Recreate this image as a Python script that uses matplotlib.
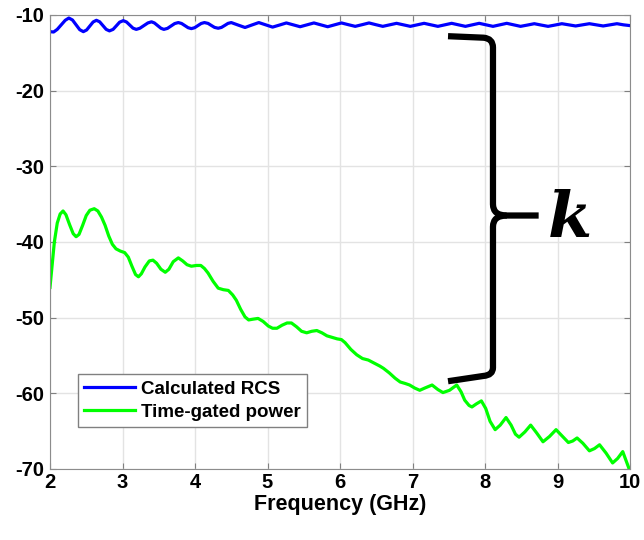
import numpy as np
import matplotlib.pyplot as plt
from matplotlib.path import Path
from matplotlib.patches import PathPatch

# calculated RCS (blue), dB vs GHz
rcs_ghz = [2.00, 2.05, 2.10, 2.155, 2.21, 2.26, 2.31, 2.36, 2.41, 2.46,
           2.505, 2.55, 2.595, 2.64, 2.685, 2.73, 2.775, 2.82, 2.87, 2.915,
           2.96, 3.01, 3.055, 3.10, 3.145, 3.19, 3.24, 3.295, 3.35, 3.40,
           3.44, 3.485, 3.53, 3.57, 3.62, 3.67, 3.72, 3.77, 3.815, 3.86,
           3.905, 3.95, 3.995, 4.04, 4.085, 4.13, 4.18, 4.225, 4.27, 4.32,
           4.365, 4.41, 4.455, 4.50, 4.595, 4.69, 4.785, 4.88, 4.975, 5.07,
           5.165, 5.26, 5.355, 5.45, 5.545, 5.64, 5.735, 5.83, 5.925, 6.02,
           6.115, 6.21, 6.305, 6.40, 6.495, 6.59, 6.685, 6.78, 6.875, 6.97,
           7.065, 7.16, 7.255, 7.35, 7.445, 7.54, 7.635, 7.73, 7.825, 7.92,
           8.015, 8.11, 8.205, 8.30, 8.395, 8.49, 8.585, 8.68, 8.775, 8.87,
           8.965, 9.06, 9.155, 9.25, 9.345, 9.44, 9.535, 9.63, 9.725, 9.82,
           9.91, 10.00]
rcs_db = [-12.2, -12.25, -11.9, -11.3, -10.7, -10.4, -10.66, -11.3, -11.94, -12.2,
          -11.98, -11.45, -10.92, -10.7, -10.9, -11.4, -11.9, -12.1, -11.9, -11.43,
          -10.95, -10.75, -10.92, -11.33, -11.74, -11.9, -11.75, -11.4, -11.05, -10.9,
          -11.05, -11.4, -11.75, -11.9, -11.77, -11.45, -11.13, -11.0, -11.12, -11.4,
          -11.68, -11.8, -11.68, -11.4, -11.12, -11.0, -11.11, -11.38, -11.64, -11.75,
          -11.64, -11.38, -11.11, -11.0, -11.33, -11.65, -11.32, -11.0, -11.3, -11.6,
          -11.33, -11.05, -11.3, -11.55, -11.3, -11.05, -11.3, -11.55, -11.3, -11.05,
          -11.28, -11.5, -11.28, -11.05, -11.28, -11.5, -11.3, -11.1, -11.3, -11.5,
          -11.3, -11.1, -11.3, -11.5, -11.3, -11.1, -11.3, -11.5, -11.3, -11.1,
          -11.3, -11.5, -11.3, -11.1, -11.3, -11.5, -11.33, -11.15, -11.33, -11.5,
          -11.33, -11.15, -11.3, -11.45, -11.3, -11.15, -11.3, -11.45, -11.3, -11.15,
          -11.3, -11.4]

# time-gated power (green)
tg_ghz = [2.00, 2.03, 2.06, 2.10, 2.14, 2.18, 2.22, 2.27, 2.32, 2.36,
          2.40, 2.45, 2.50, 2.55, 2.61, 2.66, 2.71, 2.76, 2.81, 2.86,
          2.91, 2.97, 3.03, 3.08, 3.13, 3.18, 3.22, 3.26, 3.31, 3.37,
          3.42, 3.47, 3.53, 3.59, 3.64, 3.70, 3.77, 3.83, 3.89, 3.95,
          4.02, 4.08, 4.13, 4.18, 4.25, 4.32, 4.39, 4.46, 4.52, 4.57,
          4.63, 4.69, 4.74, 4.80, 4.87, 4.94, 5.01, 5.07, 5.13, 5.20,
          5.27, 5.33, 5.40, 5.47, 5.54, 5.61, 5.68, 5.75, 5.82, 5.89,
          5.96, 6.02, 6.07, 6.15, 6.23, 6.31, 6.39, 6.47, 6.55, 6.60,
          6.68, 6.76, 6.83, 6.90, 6.96, 7.03, 7.10, 7.17, 7.27, 7.35,
          7.42, 7.51, 7.61, 7.67, 7.72, 7.78, 7.82, 7.88, 7.95, 8.01,
          8.07, 8.14, 8.21, 8.29, 8.36, 8.42, 8.47, 8.55, 8.63, 8.71,
          8.80, 8.89, 8.98, 9.06, 9.15, 9.21, 9.27, 9.35, 9.44, 9.51,
          9.58, 9.67, 9.76, 9.83, 9.90, 9.95, 10.00]
tg_db = [-46.0, -43.0, -40.0, -37.5, -36.3, -35.9, -36.4, -37.7, -38.9, -39.3,
         -39.0, -37.8, -36.5, -35.8, -35.6, -35.9, -36.7, -37.8, -39.2, -40.3,
         -40.9, -41.2, -41.4, -42.0, -43.2, -44.3, -44.6, -44.2, -43.3, -42.5,
         -42.4, -42.8, -43.6, -44.0, -43.6, -42.6, -42.1, -42.5, -43.0, -43.2,
         -43.1, -43.1, -43.5, -44.1, -45.2, -46.1, -46.3, -46.4, -47.0, -47.7,
         -48.9, -49.9, -50.3, -50.2, -50.1, -50.5, -51.1, -51.4, -51.4, -51.0,
         -50.7, -50.7, -51.2, -51.8, -52.0, -51.8, -51.7, -52.0, -52.4, -52.6,
         -52.8, -52.9, -53.3, -54.2, -54.9, -55.4, -55.6, -56.0, -56.4, -56.7,
         -57.3, -58.0, -58.5, -58.7, -58.9, -59.3, -59.6, -59.3, -58.9, -59.5,
         -59.9, -59.6, -58.9, -59.8, -60.9, -61.6, -61.8, -61.4, -61.0, -62.0,
         -63.7, -64.8, -64.2, -63.2, -64.2, -65.4, -65.8, -65.1, -64.2, -65.2,
         -66.4, -65.7, -64.8, -65.6, -66.5, -66.3, -65.9, -66.6, -67.6, -67.3,
         -66.8, -67.9, -69.2, -68.6, -67.7, -69.0, -70.3]

xticks = [2, 3, 4, 5, 6, 7, 8, 9, 10]
yticks = [-70, -60, -50, -40, -30, -20, -10]

plt.rcParams['font.family'] = ['Liberation Sans', 'DejaVu Sans']
plt.rcParams['font.weight'] = 'bold'
plt.rcParams['axes.unicode_minus'] = False

fig = plt.figure(figsize=(6.44, 5.40), dpi=100)
ax = fig.add_axes([50 / 644, 1 - 469 / 540, 580 / 644, 454 / 540])

ax.plot(rcs_ghz, rcs_db, color='#0000ff', lw=2.3, label='Calculated RCS')
ax.plot(tg_ghz, tg_db, color='#00ff00', lw=2.3, label='Time-gated power')

ax.set_xlim(2, 10)
ax.set_ylim(-70, -10)
ax.set_xticks(xticks)
ax.set_yticks(yticks)
ax.grid(True, color='#e3e3e3', lw=1)
ax.set_axisbelow(True)
ax.tick_params(direction='in', top=True, right=True, length=4,
               color='#808080', labelsize=14.5)
ax.tick_params(axis='x', pad=3)
ax.tick_params(axis='y', pad=4)
for sp in ax.spines.values():
    sp.set_color('#8c8c8c')
ax.set_xlabel('Frequency (GHz)', fontsize=15.5, fontweight='bold', labelpad=1)

leg = ax.legend(loc='lower left', bbox_to_anchor=(0.048, 0.092), borderaxespad=0,
                fancybox=False, framealpha=1, edgecolor='#808080',
                prop={'size': 13.5, 'weight': 'bold'}, handlelength=2.7,
                handletextpad=0.3, borderpad=0.35, labelspacing=0.3)
leg.get_frame().set_linewidth(1)

# brace annotation
bx = 8.11
top = [(7.49, -12.8), (7.98, -13.0), (8.11, -13.1), (bx, -14.3), (bx, -35.0),
       (bx, -36.5), (8.3, -36.5), (8.74, -36.5)]
top_codes = [Path.MOVETO, Path.LINETO, Path.CURVE3, Path.CURVE3, Path.LINETO,
             Path.CURVE3, Path.CURVE3, Path.LINETO]
bot = [(8.3, -36.5), (bx, -36.5), (bx, -38.0), (bx, -56.6), (bx, -57.6),
       (7.98, -57.7), (7.49, -58.4)]
bot_codes = [Path.MOVETO, Path.CURVE3, Path.CURVE3, Path.LINETO, Path.CURVE3,
             Path.CURVE3, Path.LINETO]
for v, c in ((top, top_codes), (bot, bot_codes)):
    ax.add_patch(PathPatch(Path(v, c), fill=False, lw=4.5, edgecolor='black',
                           capstyle='butt', joinstyle='round', clip_on=False))
ax.text(9.17, -37.0, 'k', fontsize=46, fontweight='bold', fontstyle='italic',
        family='DejaVu Serif', ha='center', va='center')

fig.savefig('out.png', dpi=100)
